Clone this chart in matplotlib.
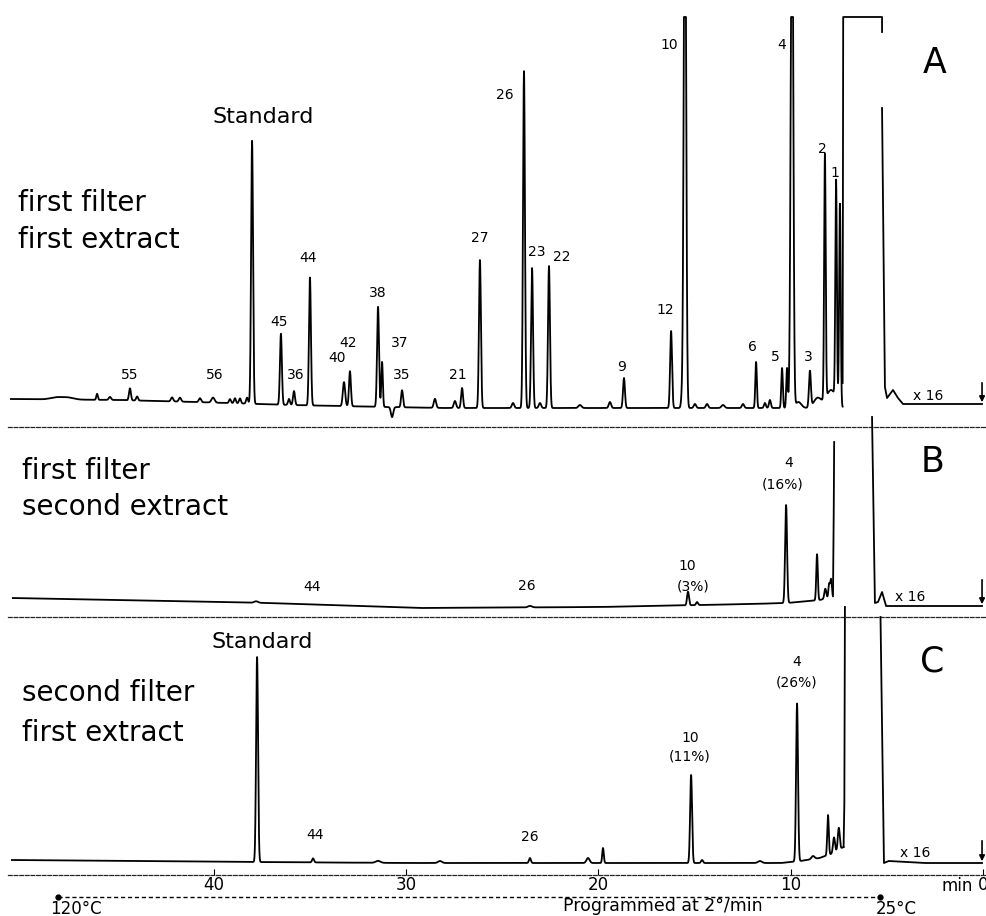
import numpy as np
import matplotlib.pyplot as plt

plt.rcParams['font.family'] = ['DejaVu Sans']

# retention time in min (0 = injection, time runs to the left), response in chart units

# --- A: first filter, first extract ---
a_base_t = [50.6, 45.0, 41.0, 36.0, 31.0, 28.0, 9.5, 7.3]
a_base_v = [9, 8, 6, 3, 1, 0, 0, 0]
a_peak_t = [48.2, 47.6, 46.07, 45.40, 44.36, 43.99, 42.17, 41.76, 40.72, 40.04,
            39.16, 38.90, 38.64, 38.27, 38.01, 36.51, 36.09, 35.83, 35.00, 33.23,
            32.92, 31.46, 31.25, 30.73, 30.21, 28.50, 27.46, 27.09, 26.16, 24.44,
            23.87, 23.45, 23.04, 22.57, 20.96, 19.40, 18.67, 16.22, 15.65, 15.50,
            14.98, 14.35, 13.52, 12.48, 11.80, 11.34, 11.08, 10.45, 10.19, 10.04,
            9.93, 9.60, 9.00, 8.60, 8.22, 7.90, 7.64, 7.44]
a_peak_h = [2, 2, 6, 3, 12, 4, 4, 4, 4, 5,
            4, 5, 5, 6, 263, 71, 6, 14, 128, 24,
            35, 100, 45, -10, 17, 9, 7, 20, 148, 5,
            337, 140, 5, 142, 3, 6, 30, 77, 11, 600,
            4, 4, 3, 4, 46, 5, 8, 40, 40, 25,
            600, 6, 36, 10, 245, 18, 218, 201]
a_peak_w = [0.3, 0.3, 0.04, 0.06, 0.05, 0.05, 0.06, 0.06, 0.06, 0.08,
            0.05, 0.05, 0.05, 0.05, 0.05, 0.05, 0.05, 0.05, 0.05, 0.06,
            0.05, 0.05, 0.04, 0.06, 0.05, 0.06, 0.06, 0.05, 0.05, 0.06,
            0.05, 0.05, 0.06, 0.05, 0.08, 0.06, 0.05, 0.05, 0.05, 0.06,
            0.06, 0.06, 0.08, 0.06, 0.04, 0.05, 0.05, 0.04, 0.04, 0.04,
            0.06, 0.15, 0.05, 0.2, 0.04, 0.25, 0.04, 0.04]
a_full_scale = 391
a_solv_t = [7.30, 7.27, 5.25, 5.25, np.nan, 5.25, 5.10, 4.99, 4.68, 4.42, 4.16, 0.05]
a_solv_v = [25, 391, 391, 376, np.nan, 300, 21, 10, 18, 10, 4, 4]
a_labels = ['55', '56', '45', '36', '44', '40', '42', '38', '37', '35', '21', '27',
            '26', '23', '22', '9', '12', '10', '6', '5', '4', '3', '2', '1']
a_lab_t = [44.36, 39.94, 36.61, 35.73, 35.10, 33.59, 33.02, 31.46, 30.32, 30.21, 27.30, 26.16,
           24.86, 23.19, 21.89, 18.77, 16.54, 16.33, 12.01, 10.82, 10.45, 9.10, 8.37, 7.70]
a_lab_v = [33, 33, 86, 33, 150, 50, 65, 115, 65, 33, 33, 170,
           313, 156, 151, 41, 98, 363, 61, 51, 363, 51, 259, 235]

# --- B: first filter, second extract ---
b_base_t = [50.5, 37.2, 29.3, 19.9, 12.1, 10.2, 8.5, 7.8]
b_base_v = [8, 3, -2, -1, 2, 3, 6, 9]
b_peak_t = [37.8, 23.56, 15.34, 14.87, 10.24, 8.63, 8.20, 8.00, 7.90]
b_peak_h = [1.5, 1.5, 13.5, 3, 98, 46, 10, 14, 18]
b_peak_w = [0.1, 0.1, 0.05, 0.05, 0.05, 0.04, 0.05, 0.04, 0.04]
b_solv_t = [7.80, 7.76, 7.74, np.nan, 5.77, 5.62, 5.46, 5.25, 5.04, 0.05]
b_solv_v = [12, 100, 164, np.nan, 189, 3, 4, 14, 0, 0]
b_labels = ['44', '26', '10', '(3%)', '4', '(16%)']
b_lab_t = [34.89, 23.71, 15.39, 15.08, 10.09, 10.40]
b_lab_v = [19, 20, 40, 19, 143, 121]

# --- C: second filter, first extract ---
c_base_t = [50.5, 38.0, 30.0, 10.5, 9.5, 8.5, 7.9, 7.25]
c_base_v = [3, 1, 0, 0, 2, 5, 9, 16]
c_peak_t = [37.75, 34.84, 31.46, 28.24, 23.56, 20.54, 19.76, 15.18, 14.61, 11.6,
            9.67, 8.84, 8.06, 7.75, 7.50]
c_peak_h = [205, 4, 2, 2, 5, 5, 15, 88, 3, 2, 158, 3, 40, 15, 22]
c_peak_w = [0.05, 0.05, 0.12, 0.1, 0.05, 0.08, 0.04, 0.05, 0.05, 0.1,
            0.05, 0.08, 0.04, 0.05, 0.05]
c_solv_t = [7.25, 7.21, 7.18, np.nan, 5.33, 5.15, 4.90, 3.00, 0.05]
c_solv_v = [16, 60, 256, np.nan, 246, 0, 2, 0, 0]
c_labels = ['Standard', '44', '26', '10', '(11%)', '4', '(26%)']
c_lab_t = [37.49, 34.74, 23.56, 15.24, 15.24, 9.67, 9.67]
c_lab_v = [221, 28, 26, 125, 107, 201, 181]

ticks = [40, 30, 20, 10, 0]


def chrom(t0, t1, base_t, base_v, pk_t, pk_h, pk_w):
    t = np.linspace(t0, t1, 9000)
    bt = np.array(base_t)
    bv = np.array(base_v, dtype=float)
    o = np.argsort(bt)
    y = np.interp(t, bt[o], bv[o])
    for tp, h, w in zip(pk_t, pk_h, pk_w):
        y = y + h * np.exp(-0.5 * ((t - tp) / w) ** 2)
    return t, y


W, H = 987, 916
fig = plt.figure(figsize=(W / 100, H / 100), dpi=100)


def px_axes(top, bottom):
    return fig.add_axes([8 / W, 1 - bottom / H, 978 / W, (bottom - top) / H])


axA = px_axes(0, 427)
axB = px_axes(427, 617)
axC = px_axes(617, 875)
xl = ((983 - 8) / 19.23, (983 - 986) / 19.23)
for ax, yl in [(axA, (-19, 408)), (axB, (-11, 179)), (axC, (-12, 246))]:
    ax.set_xlim(*xl)
    ax.set_ylim(*yl)
    ax.set_yticks([])
    for s in ['left', 'right', 'top']:
        ax.spines[s].set_visible(False)
    ax.spines['bottom'].set_linestyle((0, (3, 1.5)))
    ax.spines['bottom'].set_linewidth(0.9)
    ax.spines['bottom'].set_color('0.15')
    ax.patch.set_alpha(0)
for ax in (axA, axB):
    ax.set_xticks([])

lw = 1.3
kw = dict(color='black', lw=lw, clip_on=False, solid_joinstyle='round')

# A
t, y = chrom(50.55, 7.30, a_base_t, a_base_v, a_peak_t, a_peak_h, a_peak_w)
axA.plot(t, np.minimum(y, a_full_scale), **kw)
axA.plot(a_solv_t, a_solv_v, **kw)
for s, tt, vv in zip(a_labels, a_lab_t, a_lab_v):
    axA.text(tt, vv, s, ha='center', va='center', fontsize=10)
axA.text(37.44, 291, 'Standard', ha='center', va='center', fontsize=16)
axA.text(50.18, 205, 'first filter', ha='left', va='center', fontsize=20)
axA.text(50.18, 168, 'first extract', ha='left', va='center', fontsize=20)
axA.text(2.50, 345, 'A', ha='center', va='center', fontsize=25)
axA.text(2.86, 12, 'x 16', ha='center', va='center', fontsize=10)
axA.annotate('', xy=(0.05, 3), xytext=(0.05, 28),
             arrowprops=dict(arrowstyle='-|>', color='black', lw=1.2, mutation_scale=8))

# B
t, y = chrom(50.45, 7.80, b_base_t, b_base_v, b_peak_t, b_peak_h, b_peak_w)
axB.plot(t, y, **kw)
axB.plot(b_solv_t, b_solv_v, **kw)
for s, tt, vv in zip(b_labels, b_lab_t, b_lab_v):
    axB.text(tt, vv, s, ha='center', va='center', fontsize=10)
axB.text(49.97, 135, 'first filter', ha='left', va='center', fontsize=20)
axB.text(49.97, 99, 'second extract', ha='left', va='center', fontsize=20)
axB.text(2.60, 144, 'B', ha='center', va='center', fontsize=25)
axB.text(3.80, 9, 'x 16', ha='center', va='center', fontsize=10)
axB.annotate('', xy=(0.05, -1), xytext=(0.05, 29),
             arrowprops=dict(arrowstyle='-|>', color='black', lw=1.2, mutation_scale=8))

# C
t, y = chrom(50.5, 7.25, c_base_t, c_base_v, c_peak_t, c_peak_h, c_peak_w)
axC.plot(t, y, **kw)
axC.plot(c_solv_t, c_solv_v, **kw)
for s, tt, vv in zip(c_labels, c_lab_t, c_lab_v):
    axC.text(tt, vv, s, ha='center', va='center', fontsize=16 if s == 'Standard' else 10)
axC.text(49.97, 170, 'second filter', ha='left', va='center', fontsize=20)
axC.text(49.97, 130, 'first extract', ha='left', va='center', fontsize=20)
axC.text(2.65, 201, 'C', ha='center', va='center', fontsize=25)
axC.text(3.54, 10, 'x 16', ha='center', va='center', fontsize=10)
axC.annotate('', xy=(0.05, -1), xytext=(0.05, 25),
             arrowprops=dict(arrowstyle='-|>', color='black', lw=1.2, mutation_scale=8))

# time axis
axC.set_xticks(ticks)
axC.set_xticklabels([str(v) for v in ticks], fontsize=12)
axC.tick_params(axis='x', direction='in', length=4, pad=1)
tr = axC.get_xaxis_transform()
axC.text(1.35, -0.043, 'min', transform=tr, ha='center', va='center', fontsize=12)
axC.plot([48.1, 5.36], [-0.087, -0.087], transform=tr, clip_on=False, color='black',
         lw=1.0, ls=(0, (3, 2)), marker='o', ms=3.5)
axC.text(47.17, -0.13, '120°C', transform=tr, ha='center', va='center', fontsize=12)
axC.text(16.64, -0.12, 'Programmed at 2°/min', transform=tr, ha='center', va='center', fontsize=12.5)
axC.text(4.52, -0.13, '25°C', transform=tr, ha='center', va='center', fontsize=12)

fig.savefig('out.png', dpi=100)
